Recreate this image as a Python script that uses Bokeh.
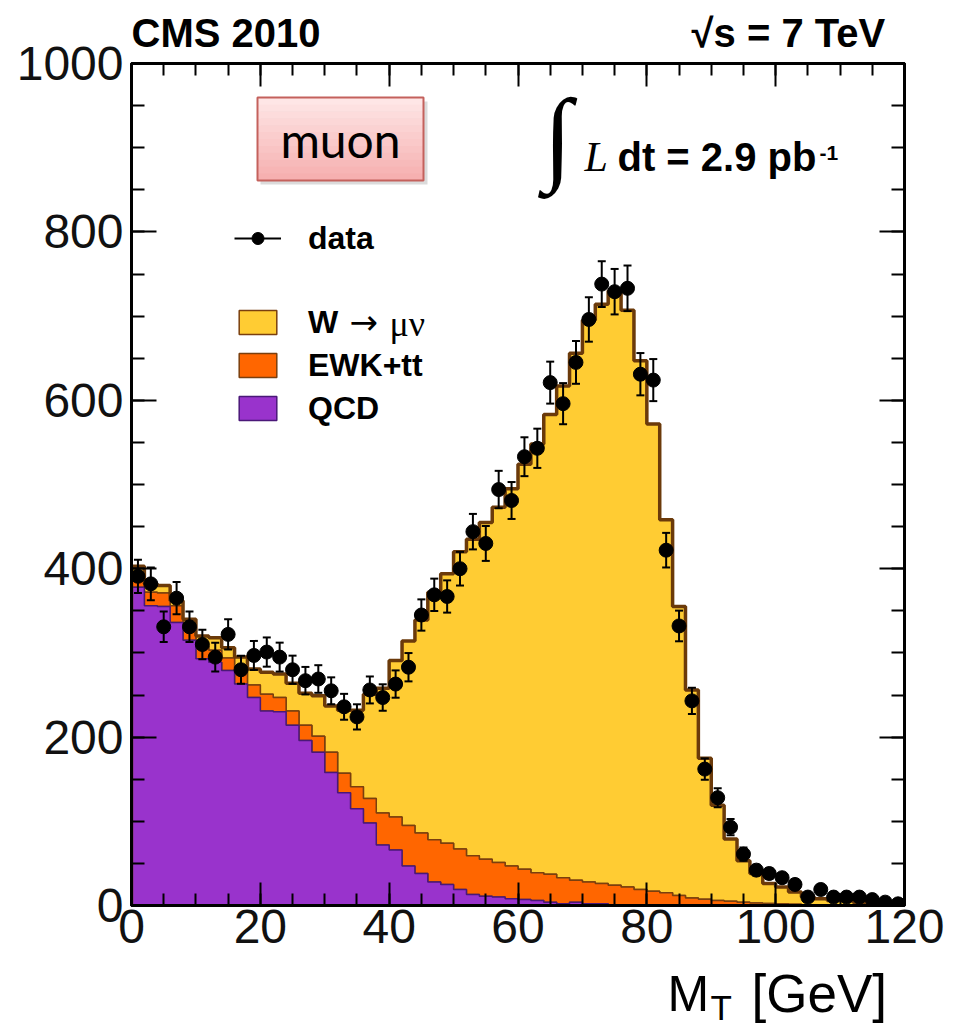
import numpy as np
from bokeh.plotting import figure
from bokeh.layouts import column
from bokeh.models import (Range1d, LinearAxis, SingleIntervalTicker, Label, Legend,
                          LegendItem, BoxAnnotation, CustomJSTickFormatter, ColumnDataSource)
from bokeh.embed import file_html
from bokeh.resources import INLINE

# ---------------- data (2 GeV bins, 0..120 GeV) ----------------
bin_edges = np.arange(0, 122, 2)

qcd = [378, 356, 355, 336, 315, 293, 289, 279, 263, 247, 231, 230, 214, 196, 182, 158, 134, 115, 98, 72,
       66, 47, 38, 28, 25, 19, 13, 11, 10, 8, 7, 6, 4, 2, 4, 2, 2, 1, 1, 1,
       1, 1, 0, 0, 0, 0, 0, 0, 0, 0, 0, 0, 0, 0, 0, 0, 0, 0, 0, 0]

ewk_tt = [16, 16, 16, 20, 17, 15, 14, 15, 19, 15, 20, 17, 17, 18, 19, 24, 23, 26, 29, 38,
          39, 48, 48, 50, 49, 48, 46, 44, 41, 39, 36, 33, 33, 31, 26, 26, 24, 23, 21, 18,
          16, 14, 12, 9, 7.5, 6, 5, 4, 3, 2.5, 2, 1.5, 1, 1, 0.5, 0.5, 0.3, 0.2, 0.1, 0]

w_munu = [9, 10, 9, 6, 8, 12, 15, 12, 13, 19, 26, 28, 33, 38, 48, 55, 75, 91, 124, 148,
          186, 219, 253, 294, 320, 353, 376, 400, 422, 448, 481, 509, 546, 584, 626, 667, 688, 706, 685, 628,
          555, 443, 343, 247, 167.5, 113, 74, 49, 35, 23.5, 20, 14.5, 9, 7, 5.5, 5.5, 3.7, 2.8, 1.9, 2]

data = [391, 382, 331, 365, 331, 310, 295, 322, 280, 297, 301, 295, 280, 267, 269, 255, 236, 224, 256, 247,
        263, 283, 345, 369, 367, 400, 444, 430, 494, 481, 533, 543, 621, 596, 645, 696, 738, 729, 733, 631,
        624, 422, 332, 243, 162, 128, 93, 61, 42, 38, 33, 25, 10, 19, 10, 10, 10, 7, 4, 2]

x_ticks_major = 20
y_ticks_major = 200

# ---------------- page geometry (px) ----------------
W = 964
FOOT_H = 62
MAIN_H = 1027 - FOOT_H                    # 965
FL, FR, FT, FB = 131, 60, 63, 60          # main-figure borders
FRAME_BOTTOM = MAIN_H - FB                # 905 on the page
FOOT_TOP = MAIN_H                         # 965 on the page

SANS = "Liberation Sans"
SERIF = "Liberation Serif"

# ---------------- main figure ----------------
header_text = "CMS 2010" + " " + "\u2003" * 9 + "√s = 7 TeV"
p = figure(width=W, height=MAIN_H, x_range=Range1d(0, 120), y_range=Range1d(0, 1000),
           output_backend="svg", toolbar_location=None, title=header_text,
           min_border_left=FL, min_border_right=FR, min_border_top=FT, min_border_bottom=FB)
p.title.align = "left"
p.title.vertical_align = "top"
p.title.offset = 0
p.title.standoff = 14
p.title.text_font = SANS
p.title.text_font_size = "40px"
p.title.text_font_style = "bold"
p.title.text_color = "black"
p.grid.visible = False
p.background_fill_color = "white"
p.border_fill_color = "white"
p.outline_line_color = "black"
p.outline_line_width = 3

qcd_a = np.array(qcd, float)
ewk_a = np.array(ewk_tt, float)
w_a = np.array(w_munu, float)
cum1 = qcd_a
cum2 = qcd_a + ewk_a
cum3 = qcd_a + ewk_a + w_a

def step_xy(vals):
    xs = np.repeat(bin_edges, 2)[1:-1]
    ys = np.repeat(vals, 2)
    return xs, ys

def band(top, bottom):
    tx, ty = step_xy(top)
    bx, by = step_xy(bottom)
    return np.concatenate([tx, bx[::-1]]), np.concatenate([ty, by[::-1]])

xs, ys = band(cum3, cum2)
w_r = p.patch(xs, ys, fill_color="#FFCC33", line_color="#7A3F0E", line_width=1.5)
xs, ys = band(cum2, cum1)
ewk_r = p.patch(xs, ys, fill_color="#FF6600", line_color="#7A3F0E", line_width=1.5)
xs, ys = band(cum1, np.zeros_like(cum1))
qcd_r = p.patch(xs, ys, fill_color="#9933CC", line_color="#4A1878", line_width=1.5)

tx, ty = step_xy(cum3)
p.line(np.concatenate([[bin_edges[0]], tx, [bin_edges[-1]]]),
       np.concatenate([[0], ty, [0]]), line_color="#6B3A0A", line_width=3.5)

centers = (bin_edges[:-1] + bin_edges[1:]) / 2
d = np.array(data, float)
err = np.sqrt(d)
src = ColumnDataSource(dict(x=centers, y=d, lo=d - err, hi=d + err))
err_r = p.segment(x0="x", y0="lo", x1="x", y1="hi", source=src, line_color="black", line_width=2)
p.scatter("x", "lo", source=src, marker="dash", size=8, line_color="black", line_width=2)
p.scatter("x", "hi", source=src, marker="dash", size=8, line_color="black", line_width=2)
pts_r = p.scatter("x", "y", source=src, size=14, fill_color="black", line_color="black")

# axes (ROOT style: ticks inside on all four sides)
def style_axis(ax, major_len, minor_len, labels=True):
    ax.major_tick_in = major_len
    ax.major_tick_out = 0
    ax.minor_tick_in = minor_len
    ax.minor_tick_out = 0
    ax.major_tick_line_width = 2
    ax.minor_tick_line_width = 2
    ax.major_tick_line_color = "black"
    ax.minor_tick_line_color = "black"
    ax.axis_line_width = 3
    ax.axis_line_color = "black"
    if labels:
        ax.major_label_text_font = SANS
        ax.major_label_text_font_size = "48px"
        ax.major_label_text_color = "#111111"
    else:
        ax.formatter = CustomJSTickFormatter(code="return ''")
        ax.major_label_text_font_size = "1px"
        ax.major_label_standoff = 0

xa = p.xaxis[0]
xa.ticker = SingleIntervalTicker(interval=x_ticks_major, num_minor_ticks=4)
style_axis(xa, 23, 12)
xa.major_label_standoff = 4
ya = p.yaxis[0]
ya.ticker = SingleIntervalTicker(interval=y_ticks_major, num_minor_ticks=4)
style_axis(ya, 25, 13)
ya.major_label_standoff = 8

top_ax = LinearAxis(ticker=SingleIntervalTicker(interval=x_ticks_major, num_minor_ticks=4))
style_axis(top_ax, 23, 12, labels=False)
p.add_layout(top_ax, "above")
right_ax = LinearAxis(ticker=SingleIntervalTicker(interval=y_ticks_major, num_minor_ticks=4))
style_axis(right_ax, 25, 13, labels=False)
p.add_layout(right_ax, "right")

# plot legends
def make_legend(items, loc):
    lg = Legend(items=items, location=loc, orientation="vertical",
                border_line_alpha=0, background_fill_alpha=0, padding=0, margin=0,
                spacing=5, glyph_width=47, glyph_height=30, label_height=38,
                label_standoff=27, label_text_font=SANS,
                label_text_font_size="32px", label_text_font_style="bold",
                label_text_color="black")
    p.add_layout(lg)
    return lg

make_legend([LegendItem(label="data", renderers=[err_r, pts_r])], (234 - FL, FRAME_BOTTOM - 257))
make_legend([LegendItem(label="W", renderers=[w_r]),
             LegendItem(label="EWK+tt", renderers=[ewk_r]),
             LegendItem(label="QCD", renderers=[qcd_r])], (234 - FL, FRAME_BOTTOM - 427))

# in-frame labels: page px (cx, cy = vertical centre of the text box)
def lab(text, cx, cy, size, font=SANS, style="normal", align="left", color="black"):
    p.add_layout(Label(x=cx - FL, y=FRAME_BOTTOM - cy, x_units="screen", y_units="screen",
                       text=text, text_font=font, text_font_size=f"{size}px",
                       text_font_style=style, text_align=align, text_baseline="middle",
                       text_color=color))

lab("→", 349, 321, 34, font="DejaVu Sans")
lab("μν", 389, 323, 36, font=SERIF)

lab("∫", 543, 135, 104, font=SERIF)
lab("L", 584, 156, 42, font=SERIF, style="italic")
lab("dt = 2.9 pb", 617, 156, 40, style="bold")
lab("-1", 819, 152, 21, style="bold")

# muon box with soft vertical gradient and shadow
bl, br, bt, bb = 257, 423, 97, 180
def sbox(l, r, t, b, **kw):
    p.add_layout(BoxAnnotation(left=l - FL, right=r - FL, top=FRAME_BOTTOM - t, bottom=FRAME_BOTTOM - b,
                               left_units="screen", right_units="screen", top_units="screen",
                               bottom_units="screen", **kw))

sbox(bl + 3, br + 4, bt + 4, bb + 4, fill_color="#999999", fill_alpha=0.35, line_alpha=0)
c0 = np.array([0xFF, 0xE9, 0xE9])
c1 = np.array([0xF6, 0xAE, 0xAE])
nb = 12
for i in range(nb):
    t = (i + 0.5) / nb
    col = "#%02X%02X%02X" % tuple((c0 * (1 - t) + c1 * t).astype(int))
    sbox(bl, br, bt + (bb - bt) * i / nb, bt + (bb - bt) * (i + 1) / nb + 0.5,
         fill_color=col, fill_alpha=1, line_alpha=0)
sbox(bl, br, bt, bb, fill_alpha=0, line_color="#C4615C", line_width=2, line_alpha=1)
lab("muon", 340, 139, 48, font="Lato", align="center")

# ---------------- footer strip: x-axis title (frame aligned with main frame) ----------------
foot = figure(width=W, height=FOOT_H, x_range=Range1d(FL, W - FR), y_range=Range1d(FOOT_H, 0),
              output_backend="svg", toolbar_location=None, title=None,
              x_axis_location=None, y_axis_location=None, min_border=0)
foot.grid.visible = False
foot.outline_line_color = None
foot.background_fill_color = "white"
foot.border_fill_color = "white"

def flab(text, x, baseline, size):
    foot.add_layout(Label(x=x, y=baseline - 0.3465 * size - FOOT_TOP, text=text, text_font=SANS,
                          text_font_size=f"{size}px", text_align="left", text_baseline="middle",
                          text_color="black"))

flab("M", 667, 1011, 50)
flab("T", 710, 1019, 35)
flab("[GeV]", 751, 1011, 53)

layout = column(p, foot, spacing=0)
open("out.html", "w").write(file_html(layout, INLINE))
